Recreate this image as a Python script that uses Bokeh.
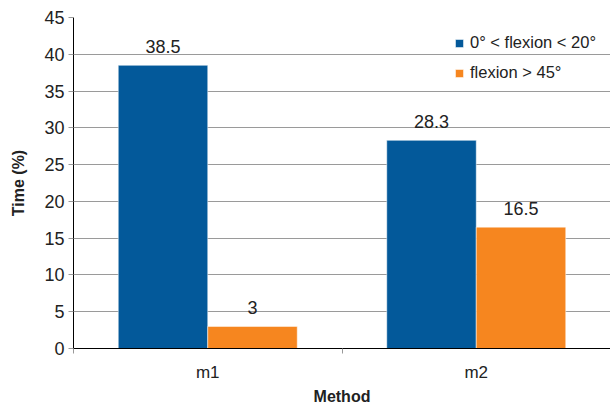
from bokeh.plotting import figure
from bokeh.models import ColumnDataSource, FixedTicker, Range1d, LabelSet, Legend, LegendItem
from bokeh.core.properties import value
from bokeh.embed import file_html
from bokeh.resources import INLINE

methods = ["m1", "m2"]
series_names = ["0° < flexion < 20°", "flexion > 45°"]
flex_low = [38.5, 28.3]
flex_high = [3, 16.5]
label_low = ["38.5", "28.3"]
label_high = ["3", "16.5"]
colors = ["#03599A", "#F6861F"]
y_ticks = [0, 5, 10, 15, 20, 25, 30, 35, 40, 45]

FONT = "Liberation Sans"
TXT = "#222222"
bar_w = 1 / 3

centers = [i + 0.5 for i in range(len(methods))]
src_low = ColumnDataSource(dict(x=[c - bar_w / 2 for c in centers], top=flex_low, lab=label_low))
src_high = ColumnDataSource(dict(x=[c + bar_w / 2 for c in centers], top=flex_high, lab=label_high))

p = figure(width=610, height=407, output_backend="svg", toolbar_location=None,
           x_range=Range1d(0, len(methods)), y_range=Range1d(0, 45),
           min_border_left=73, min_border_right=0, min_border_top=17, min_border_bottom=50)
p.outline_line_color = None
p.background_fill_color = "white"
p.border_fill_color = "white"

r1 = p.vbar(x="x", top="top", width=bar_w, source=src_low, fill_color=colors[0],
            line_color="white", line_alpha=0.5, line_width=1)
r2 = p.vbar(x="x", top="top", width=bar_w, source=src_high, fill_color=colors[1],
            line_color="white", line_alpha=0.5, line_width=1)

for src in (src_low, src_high):
    p.add_layout(LabelSet(x="x", y="top", text="lab", source=src, text_align="center",
                          text_baseline="alphabetic", y_offset=12, text_font=value(FONT),
                          text_font_size=value("18px"), text_color=TXT))

# axes
p.yaxis.ticker = FixedTicker(ticks=y_ticks)
p.yaxis.axis_label = "Time (%)"
p.yaxis.axis_label_text_font = FONT
p.yaxis.axis_label_text_font_style = "bold"
p.yaxis.axis_label_text_font_size = "16px"
p.yaxis.axis_label_text_color = TXT
p.yaxis.axis_label_standoff = 14
p.yaxis.major_label_text_font = FONT
p.yaxis.major_label_text_font_size = "18px"
p.yaxis.major_label_text_color = TXT
p.yaxis.major_tick_out = 5
p.yaxis.major_tick_in = 0
p.yaxis.major_tick_line_color = "#999999"
p.yaxis.minor_tick_line_color = None
p.yaxis.axis_line_color = "black"
p.yaxis.major_label_standoff = 4

p.xaxis.ticker = FixedTicker(ticks=centers, minor_ticks=list(range(len(methods) + 1)))
p.xaxis.major_label_overrides = {c: m for c, m in zip(centers, methods)}
p.xaxis.major_tick_out = 0
p.xaxis.major_tick_in = 0
p.xaxis.minor_tick_out = 5
p.xaxis.minor_tick_in = 0
p.xaxis.minor_tick_line_color = "#999999"
p.xaxis.axis_line_color = "black"
p.xaxis.major_label_text_font = FONT
p.xaxis.major_label_text_font_size = "17px"
p.xaxis.major_label_text_color = TXT
p.xaxis.major_label_standoff = 9
p.xaxis.axis_label = "Method"
p.xaxis.axis_label_text_font = FONT
p.xaxis.axis_label_text_font_style = "bold"
p.xaxis.axis_label_text_font_size = "16px"
p.xaxis.axis_label_text_color = TXT
p.xaxis.axis_label_standoff = 3

p.xgrid.grid_line_color = None
p.ygrid.ticker = FixedTicker(ticks=y_ticks)
p.ygrid.grid_line_color = "#9a9a9a"
p.ygrid.grid_line_width = 1

legend = Legend(items=[LegendItem(label=series_names[0], renderers=[r1]),
                       LegendItem(label=series_names[1], renderers=[r2])],
                location=(381, 266), orientation="vertical",
                background_fill_alpha=0, border_line_color=None,
                label_text_font=FONT, label_text_font_size="16.5px", label_text_color=TXT,
                glyph_width=10, glyph_height=10, label_height=16, spacing=11,
                padding=0, margin=0, label_standoff=6)
p.add_layout(legend)

open("out.html", "w").write(file_html(p, INLINE))
